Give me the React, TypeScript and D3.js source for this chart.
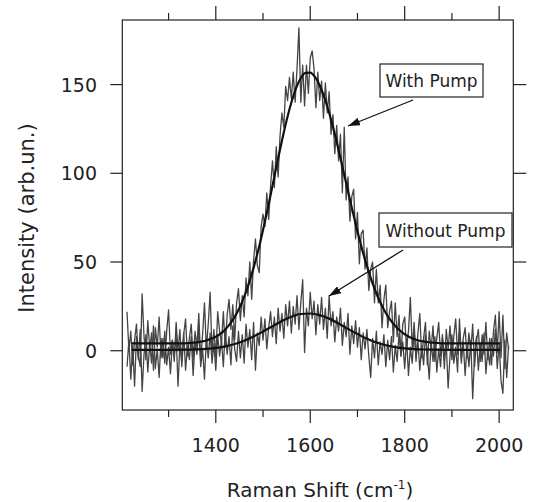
import React from 'react';
import * as d3 from 'd3';

// sample positions (cm^-1)
const ramanShift: number[] = d3.range(1212, 2021, 4);

const withPump: number[] = [
  22, 0, 11, -8, 6, 15, -3, -9, 32, 8,
  -5, 17, 1, 10, -11, 13, 2, 19, -4, 7,
  -7, 11, 23, -2, 6, -6, 16, 0, 12, -9,
  9, 18, -3, 7, 15, -5, 11, 2, 21, -6,
  9, 27, 1, 15, 33, -1, 12, -4, 22, 11,
  4, 22, 2, 20, 29, 12, 26, 6, 27, 35,
  17, 31, 19, 41, 31, 50, 29, 51, 63, 48,
  44, 70, 77, 70, 89, 74, 93, 107, 92, 115,
  98, 121, 134, 126, 149, 141, 154, 142, 157, 140,
  159, 182, 140, 161, 138, 161, 145, 165, 169, 159,
  137, 157, 141, 152, 131, 151, 134, 146, 122, 133,
  111, 127, 107, 122, 89, 126, 85, 98, 73, 87,
  91, 63, 78, 49, 66, 68, 46, 58, 34, 46,
  50, 27, 46, 27, 37, 13, 29, 37, 13, 22,
  28, 5, 27, 8, 20, -3, 15, 19, 1, 11,
  30, 1, 16, -6, 10, 21, -4, 7, 16, -8,
  11, 1, 14, -6, 7, 16, -3, 9, -10, 12,
  1, 14, -5, 8, 18, -2, 11, -7, 7, 13,
  -4, 10, 0, 15, -9, 6, 12, -6, 9, -2,
  16, -5, 7, -8, 11, 20, -1, 22, -4, 20,
  -10, 10, 1,
];

const withoutPump: number[] = [
  -9, 6, -16, 3, -20, 8, -5, 12, -23, -2,
  9, -12, 4, -7, 14, -10, 1, -15, 7, -4,
  11, -8, 2, -13, 6, -3, 9, -20, 4, -6,
  10, -11, 3, -5, 8, -14, 5, -2, 13, -9,
  1, -16, 7, -4, 10, -7, 4, -11, 9, -3,
  6, -9, 12, -2, 8, -8, 14, 1, -6, 11,
  -4, 9, -7, 15, 2, 12, -5, 16, -11, 10,
  3, 19, 6, 18, 1, 13, 22, 8, 19, 4,
  24, 11, 21, 7, 26, 14, 28, 10, 25, 15,
  31, 12, 27, 40, -1, 24, 14, 33, 18, 28,
  9, 26, 15, 30, 12, 24, 7, 31, 14, 22,
  5, 19, 11, 24, 3, 16, 8, 21, -2, 14,
  4, 17, 2, 13, -5, 10, 1, 12, -3, -15,
  7, -4, 11, -8, 5, -2, 9, -9, 6, -5,
  8, -12, 3, -6, 10, -3, 5, -10, 7, -14,
  2, -7, 12, -4, 6, -11, 3, -8, 9, -2,
  -16, 5, -6, 8, -12, 1, -9, 7, -5, 4,
  -21, -3, 9, -7, 2, -12, 18, -4, 5, -14,
  3, -9, 6, -27, -2, 8, -11, 4, -6, 10,
  -13, 1, -8, 7, -3, 12, -10, 4, -17, -24,
  6, -15, 3,
];

const fitShiftWith: number[] = [
  1222, 1260, 1300, 1330, 1340, 1350, 1360, 1370, 1380, 1390,
  1400, 1410, 1420, 1430, 1440, 1450, 1460, 1470, 1480, 1490,
  1500, 1510, 1520, 1530, 1540, 1550, 1560, 1570, 1580, 1590,
  1600, 1610, 1620, 1630, 1640, 1650, 1660, 1670, 1680, 1690,
  1700, 1710, 1720, 1730, 1740, 1750, 1760, 1770, 1780, 1790,
  1800, 1810, 1820, 1830, 1840, 1850, 1860, 1870, 1880, 1900,
  1950, 2002,
];
const fitWith: number[] = [
  4.2, 4.2, 4.2, 4.2, 4.3, 4.5, 4.7, 5.2, 5.8, 6.7,
  7.9, 9.6, 12.0, 15.1, 19.1, 24.1, 30.4, 37.9, 46.7, 56.8,
  68.1, 80.2, 92.9, 105.8, 118.3, 129.9, 139.9, 148, 153.7, 156.6,
  156.7, 154.3, 149.5, 142.7, 134.1, 124.1, 113.1, 101.5, 89.8, 78.3,
  67.3, 57, 47.8, 39.5, 32.4, 26.3, 21.3, 17.2, 13.9, 11.3,
  9.3, 7.8, 6.6, 5.8, 5.25, 4.8, 4.55, 4.35, 4.2, 4.2,
  4.2, 4.2,
];

const fitShiftWithout: number[] = [
  1222, 1280, 1340, 1360, 1380, 1400, 1420, 1440, 1460, 1480,
  1500, 1520, 1540, 1560, 1580, 1600, 1620, 1640, 1660, 1680,
  1700, 1720, 1740, 1760, 1780, 1800, 1820, 1840, 1860, 1900,
  2002,
];
const fitWithout: number[] = [
  0.5, 0.5, 0.6, 0.8, 1.1, 1.6, 2.5, 3.8, 5.6, 8.0,
  10.8, 13.8, 16.8, 19.2, 20.7, 21.0, 20.1, 18.1, 15.4, 12.3,
  9.4, 6.7, 4.6, 3.1, 2.0, 1.3, 0.9, 0.7, 0.6, 0.5,
  0.5,
];

const xMajorTicks = [1400, 1600, 1800, 2000];
const xMinorTicks = [1300, 1500, 1700, 1900];
const yTicks = [0, 50, 100, 150];

const FONT = '"DejaVu Sans", "Lucida Grande", sans-serif';

export default function App() {
  const W = 535, H = 502;
  const left = 122.3, right = 513.3, top = 20, bottom = 410;
  const x = d3.scaleLinear().domain([1202, 2030]).range([left, right]);
  const y = d3.scaleLinear().domain([-33.4, 186.4]).range([bottom, top]);
  const line = d3.line<[number, number]>().x(d => x(d[0])).y(d => y(d[1]));
  const smooth = d3.line<[number, number]>().x(d => x(d[0])).y(d => y(d[1])).curve(d3.curveMonotoneX);

  const raw1 = ramanShift.map((s, i) => [s, withPump[i]] as [number, number]).filter(d => d[1] !== undefined);
  const raw2 = ramanShift.map((s, i) => [s, withoutPump[i]] as [number, number]).filter(d => d[1] !== undefined);
  const fit1 = fitShiftWith.map((s, i) => [s, fitWith[i]] as [number, number]);
  const fit2 = fitShiftWithout.map((s, i) => [s, fitWithout[i]] as [number, number]);

  const axisColor = '#222';
  return (
    <svg width={W} height={H} style={{ position: 'absolute', left: 0, top: 0, background: '#fff' }} fontFamily={FONT}>
      <defs>
        <marker id="ah" viewBox="0 0 12 8" refX="12" refY="4" markerWidth="12" markerHeight="8" markerUnits="userSpaceOnUse" orient="auto">
          <path d="M0,0 L12,4 L0,8 Z" fill="#111" />
        </marker>
      </defs>
      {/* noisy data */}
      <path d={line(raw2) || ''} fill="none" stroke="#444" strokeWidth={1.3} strokeLinejoin="round" />
      <path d={line(raw1) || ''} fill="none" stroke="#444" strokeWidth={1.3} strokeLinejoin="round" />
      {/* fits */}
      <path d={smooth(fit2) || ''} fill="none" stroke="#111" strokeWidth={2.2} />
      <path d={smooth(fit1) || ''} fill="none" stroke="#111" strokeWidth={2.2} />

      {/* frame */}
      <rect x={left} y={top} width={right - left} height={bottom - top} fill="none" stroke={axisColor} strokeWidth={1.2} />

      {/* x ticks bottom + top */}
      {xMajorTicks.map(t => (
        <g key={'xM' + t}>
          <line x1={x(t)} x2={x(t)} y1={bottom} y2={bottom + 13} stroke={axisColor} strokeWidth={1.2} />
          <line x1={x(t)} x2={x(t)} y1={top} y2={top - 14} stroke={axisColor} strokeWidth={1.2} />
          <text x={x(t)} y={452} textAnchor="middle" fontSize={19} fill="#222">{t}</text>
        </g>
      ))}
      {xMinorTicks.map(t => (
        <g key={'xm' + t}>
          <line x1={x(t)} x2={x(t)} y1={bottom} y2={bottom + 7} stroke={axisColor} strokeWidth={1.2} />
          <line x1={x(t)} x2={x(t)} y1={top} y2={top - 7} stroke={axisColor} strokeWidth={1.2} />
        </g>
      ))}
      {/* y ticks left + right */}
      {yTicks.map(t => (
        <g key={'y' + t}>
          <line x1={left} x2={left - 12} y1={y(t)} y2={y(t)} stroke={axisColor} strokeWidth={1.2} />
          <line x1={right} x2={right + 13} y1={y(t)} y2={y(t)} stroke={axisColor} strokeWidth={1.2} />
          <text x={97} y={y(t) + 7} textAnchor="end" fontSize={19} fill="#222">{t}</text>
        </g>
      ))}

      {/* axis titles */}
      <text x={320} y={497} textAnchor="middle" fontSize={20} fill="#222">
        Raman Shift (cm<tspan dy={-8} fontSize={12}>-1</tspan><tspan dy={8}>)</tspan>
      </text>
      <text transform="translate(34,218) rotate(-90)" textAnchor="middle" fontSize={21} fill="#222">Intensity (arb.un.)</text>

      {/* annotations */}
      <rect x={380} y={64} width={103} height={33} fill="#fff" stroke="#222" strokeWidth={1.2} />
      <text x={431.5} y={87} textAnchor="middle" fontSize={17} fill="#222">With Pump</text>
      <line x1={413} y1={100} x2={348} y2={126} stroke="#111" strokeWidth={1.3} markerEnd="url(#ah)" />

      <rect x={379} y={213} width={133} height={34} fill="#fff" stroke="#222" strokeWidth={1.2} />
      <text x={445.5} y={236.5} textAnchor="middle" fontSize={17} fill="#222">Without Pump</text>
      <line x1={403} y1={250} x2={329} y2={296} stroke="#111" strokeWidth={1.3} markerEnd="url(#ah)" />
    </svg>
  );
}
